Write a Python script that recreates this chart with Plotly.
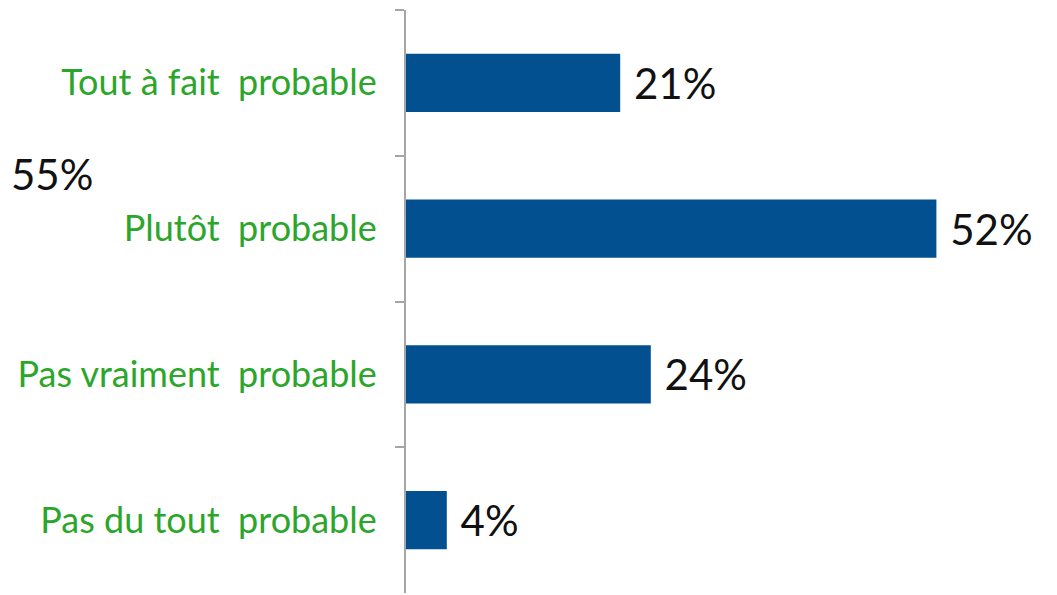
import plotly.graph_objects as go

categories = ["Tout à fait\u00a0 probable", "Plutôt\u00a0 probable", "Pas vraiment\u00a0 probable", "Pas du tout\u00a0 probable"]
values = [21, 52, 24, 4]
side_label = "55%"

W, H = 1057, 595
L, R, T, B = 398, 47, 2, 10
pw = W - L - R
ph = H - T - B

FONT = "Lato, sans-serif"

fig = go.Figure(go.Bar(
    x=values, y=categories, orientation="h",
    marker=dict(color="#02508F", line=dict(width=0)),
    width=0.4,
    text=[f"\u00a0{v}%" for v in values], textposition="outside",
    textfont=dict(family=FONT, size=42, color="#111111"),
    cliponaxis=False,
))

fig.update_layout(
    width=W, height=H,
    margin=dict(l=L, r=R, t=T, b=B, autoexpand=False),
    plot_bgcolor="white", paper_bgcolor="white",
    showlegend=False,
    xaxis=dict(range=[0, 60], visible=False, automargin=False),
    yaxis=dict(
        autorange="reversed", automargin=False,
        showline=True, linecolor="#A6A6A6", linewidth=2,
        ticks="outside", tickson="boundaries", ticklen=9, tickcolor="#A6A6A6", tickwidth=2,
        tickfont=dict(family=FONT, size=36, color="#2CA62A"),
        ticklabelstandoff=20,
        showgrid=False,
    ),
)

fig.add_annotation(
    text=side_label, xref="paper", yref="paper",
    x=-(L - 1) / pw, y=1 - (166 - T) / ph,
    xanchor="left", yanchor="middle", showarrow=False,
    font=dict(family=FONT, size=42, color="#111111"),
)

fig.write_html("out.html")
